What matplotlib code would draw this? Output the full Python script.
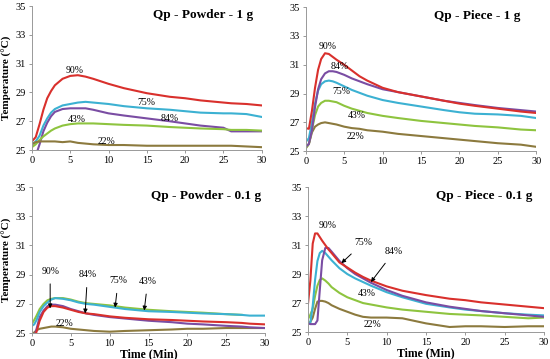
import matplotlib
matplotlib.use("Agg")
import matplotlib.pyplot as plt
import numpy as np

plt.rcParams['font.family'] = ['Liberation Serif', 'DejaVu Serif']

# Colours for each relative humidity
colors = {'90%': '#D9302C', '75%': '#3CB1D2', '84%': '#7A4DA3',
          '43%': '#8EC43F', '22%': '#8C7A3E'}

# ---- Qp - Powder - 1 g ----
t_pw1 = [0, 0.5, 1, 1.5, 2, 2.5, 3, 4, 5, 6, 7, 8, 10, 12, 15, 18, 20, 22, 25, 26, 28, 30]
pw1_90 = [25.6, 25.9, 26.8, 27.8, 28.6, 29.1, 29.5, 29.95, 30.15, 30.2, 30.1, 29.95, 29.6, 29.3, 28.95, 28.7, 28.6, 28.45, 28.3, 28.25, 28.2, 28.1]
pw1_75 = [25.4, 25.6, 26.0, 26.7, 27.2, 27.6, 27.85, 28.1, 28.2, 28.3, 28.35, 28.3, 28.2, 28.05, 27.9, 27.8, 27.7, 27.6, 27.55, 27.55, 27.5, 27.3]
pw1_84 = [24.0, 24.6, 25.4, 26.3, 26.9, 27.35, 27.65, 27.85, 27.9, 27.9, 27.9, 27.8, 27.55, 27.4, 27.2, 27.0, 26.85, 26.7, 26.55, 26.3, 26.3, 26.3]
pw1_43 = [25.2, 25.4, 25.7, 25.95, 26.15, 26.35, 26.5, 26.7, 26.8, 26.85, 26.85, 26.85, 26.8, 26.75, 26.7, 26.6, 26.55, 26.5, 26.45, 26.4, 26.4, 26.35]
pw1_22 = [25.4, 25.55, 25.6, 25.6, 25.6, 25.6, 25.6, 25.55, 25.6, 25.5, 25.45, 25.4, 25.35, 25.35, 25.3, 25.3, 25.3, 25.3, 25.3, 25.3, 25.25, 25.2]

# ---- Qp - Piece - 1 g ----
t_pc1 = [0, 0.4, 0.8, 1.2, 1.6, 2, 2.5, 3, 3.5, 4, 5, 6, 7, 8, 10, 12, 15, 18, 20, 22, 25, 28, 30]
pc1_90 = [26.6, 26.55, 27.8, 29.4, 30.65, 31.4, 31.8, 31.75, 31.55, 31.35, 31.0, 30.6, 30.2, 29.9, 29.4, 29.1, 28.8, 28.5, 28.3, 28.15, 27.95, 27.75, 27.65]
pc1_84 = [25.3, 25.5, 26.45, 28.05, 29.3, 30.0, 30.4, 30.55, 30.55, 30.5, 30.3, 30.05, 29.85, 29.65, 29.3, 29.1, 28.8, 28.5, 28.35, 28.2, 28.0, 27.85, 27.75]
pc1_75 = [25.65, 25.9, 27.0, 28.3, 29.2, 29.65, 29.85, 29.9, 29.85, 29.75, 29.5, 29.25, 29.05, 28.85, 28.55, 28.35, 28.1, 27.85, 27.7, 27.6, 27.55, 27.45, 27.3]
pc1_43 = [25.2, 25.5, 26.5, 27.5, 28.1, 28.35, 28.5, 28.5, 28.45, 28.4, 28.15, 27.95, 27.8, 27.65, 27.45, 27.3, 27.1, 26.95, 26.85, 26.75, 26.65, 26.5, 26.45]
pc1_22 = [25.2, 25.5, 26.3, 26.7, 26.85, 26.95, 27.0, 26.95, 26.9, 26.85, 26.7, 26.6, 26.55, 26.45, 26.35, 26.2, 26.05, 25.9, 25.8, 25.7, 25.55, 25.45, 25.3]

# ---- Qp - Powder - 0.1 g ----
t_pw01 = [0, 0.3, 0.6, 1, 1.5, 2, 2.5, 3, 4, 5, 6, 7, 8, 10, 12, 15, 18, 20, 22, 25, 27, 28, 30]
pw01_43 = [25.65, 25.9, 26.2, 26.65, 27.0, 27.25, 27.35, 27.4, 27.4, 27.3, 27.15, 27.05, 27.0, 26.9, 26.75, 26.6, 26.5, 26.45, 26.4, 26.3, 26.25, np.nan, np.nan]
pw01_75 = [25.5, 25.6, 25.9, 26.45, 26.85, 27.1, 27.3, 27.4, 27.35, 27.25, 27.1, 27.0, 26.95, 26.8, 26.65, 26.5, 26.45, 26.4, 26.35, 26.3, 26.25, 26.2, 26.2]
pw01_90 = [24.3, 24.7, 25.1, 25.85, 26.45, 26.75, 26.85, 26.85, 26.75, 26.6, 26.45, 26.35, 26.3, 26.15, 26.05, 25.95, 25.9, 25.85, 25.8, 25.75, 25.7, 25.65, 25.6]
pw01_84 = [24.3, 24.7, 25.3, 26.1, 26.55, 26.85, 26.95, 26.95, 26.85, 26.65, 26.5, 26.35, 26.25, 26.1, 26.0, 25.85, 25.75, 25.65, 25.6, 25.5, 25.45, 25.4, 25.35]
pw01_22 = [24.9, 25.05, 25.2, 25.3, 25.35, 25.4, 25.45, 25.45, 25.4, 25.3, 25.25, 25.2, 25.15, 25.1, 25.15, 25.2, 25.25, 25.3, 25.3, 25.35, 25.35, 25.35, 25.35]

# ---- Qp - Piece - 0.1 g ----
t_pc01 = [0, 0.3, 0.6, 0.9, 1.2, 1.5, 1.8, 2.2, 2.6, 3, 4, 5, 6, 7, 8, 10, 12, 15, 18, 20, 22, 25, 28, 30]
pc01_90 = [26.95, 28.55, 31.1, 31.8, 31.8, 31.55, 31.3, 31.0, 30.7, 30.45, 29.8, 29.45, 29.1, 28.8, 28.55, 28.15, 27.85, 27.55, 27.3, 27.2, 27.05, 26.9, 26.75, 26.65]
pc01_84 = [25.6, 25.55, 25.55, 25.55, 25.8, 27.9, 29.95, 30.8, 30.8, 30.55, 29.9, 29.4, 29.0, 28.7, 28.4, 27.9, 27.5, 27.05, 26.75, 26.6, 26.45, 26.3, 26.15, 26.05]
pc01_75 = [25.6, 25.65, 26.8, 28.6, 29.9, 30.45, 30.6, 30.45, 30.2, 29.95, 29.4, 29.0, 28.7, 28.45, 28.2, 27.75, 27.4, 26.95, 26.7, 26.55, 26.45, 26.3, 26.2, 26.15]
pc01_43 = [25.9, 26.2, 26.6, 27.5, 28.2, 28.6, 28.7, 28.55, 28.35, 28.1, 27.7, 27.4, 27.2, 27.0, 26.9, 26.7, 26.55, 26.4, 26.25, 26.2, 26.15, 26.05, 25.95, 26.0]
pc01_22 = [25.55, 25.7, 26.0, 26.6, 27.1, 27.15, 27.15, 27.1, 27.0, 26.85, 26.6, 26.4, 26.2, 26.05, 26.0, 26.0, 25.95, 25.6, 25.35, 25.4, 25.4, 25.35, 25.4, 25.4]

panels = [
    ("Qp - Powder - 1 g", t_pw1,
     [('90%', pw1_90), ('75%', pw1_75), ('84%', pw1_84), ('43%', pw1_43), ('22%', pw1_22)],
     [('90%', 5.6, 30.55), ('75%', 15.0, 28.3), ('84%', 18.0, 27.2), ('43%', 5.9, 27.15), ('22%', 9.7, 25.6)],
     []),
    ("Qp - Piece - 1 g", t_pc1,
     [('22%', pc1_22), ('43%', pc1_43), ('75%', pc1_75), ('84%', pc1_84), ('90%', pc1_90)],
     [('90%', 2.9, 32.3), ('84%', 4.35, 30.85), ('75%', 4.65, 29.15), ('43%', 6.6, 27.5), ('22%', 6.5, 26.0)],
     []),
    ("Qp - Powder - 0.1 g", t_pw01,
     [('22%', pw01_22), ('84%', pw01_84), ('90%', pw01_90), ('43%', pw01_43), ('75%', pw01_75)],
     [('22%', 4.15, 25.65)],
     [('90%', 2.35, 29.25, 2.35, 26.7), ('84%', 7.15, 29.0, 6.85, 26.35),
      ('75%', 11.1, 28.6, 10.7, 26.75), ('43%', 14.9, 28.55, 14.45, 26.55)]),
    ("Qp - Piece - 0.1 g", t_pc01,
     [('22%', pc01_22), ('43%', pc01_43), ('75%', pc01_75), ('84%', pc01_84), ('90%', pc01_90)],
     [('90%', 2.55, 32.35), ('43%', 7.5, 27.65), ('22%', 8.25, 25.55)],
     [('75%', 7.0, 31.15, 4.25, 29.75), ('84%', 10.95, 30.55, 8.0, 28.45)]),
]

# axes positions (figure fraction)
boxes = [[0.058, 0.582, 0.418, 0.401],
         [0.556, 0.579, 0.419, 0.401],
         [0.058, 0.072, 0.424, 0.407],
         [0.560, 0.075, 0.429, 0.404]]

fig = plt.figure(figsize=(5.5, 3.59), dpi=100)

for k, (title, t, series, labels, arrows) in enumerate(panels):
    ax = fig.add_axes(boxes[k])
    for name, vals in series:
        ax.plot(t, vals, color=colors[name], lw=1.5, solid_joinstyle='round')
    ax.set_xlim(0, 30)
    ax.set_ylim(25, 35)
    ax.set_xticks(range(0, 31, 5))
    ax.set_yticks(range(25, 36, 2))
    ax.tick_params(labelsize=7.5, length=2.5, width=0.6, color='#888888', pad=2)
    for s in ['top', 'right']:
        ax.spines[s].set_visible(False)
    for s in ['left', 'bottom']:
        ax.spines[s].set_color('#999999')
        ax.spines[s].set_linewidth(0.7)
    ax.text(0.745, 0.94, title, transform=ax.transAxes, ha='center', va='center',
            fontsize=9.5, fontweight='bold')
    for txt, x, y in labels:
        ax.text(x, y, txt, ha='center', va='center', fontsize=7)
    for txt, x, y, x2, y2 in arrows:
        ax.annotate(txt, xy=(x2, y2), xytext=(x, y), ha='center', va='center', fontsize=7,
                    arrowprops=dict(arrowstyle='-|>', color='black', lw=0.7,
                                    mutation_scale=6, shrinkA=4, shrinkB=0))
    if k % 2 == 0:
        ax.set_ylabel("Temperature (°C)", fontsize=8, fontweight='bold', labelpad=2)
    if k >= 2:
        ax.set_xlabel("Time (Min)", fontsize=8.5, fontweight='bold', labelpad=0)

fig.savefig("out.png", dpi=100)
